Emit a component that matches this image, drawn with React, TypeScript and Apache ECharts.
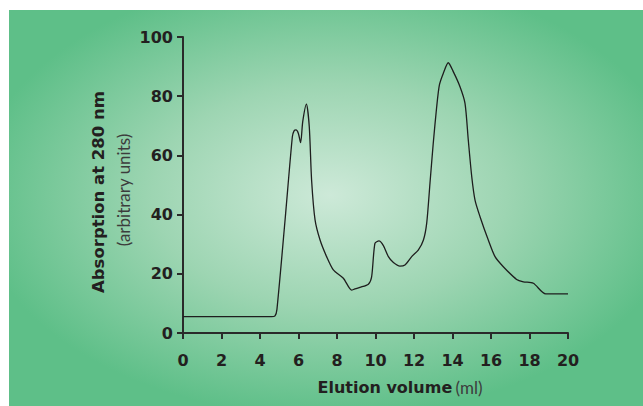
import React, { useEffect, useRef } from "react";
import * as echarts from "echarts";

const elutionVolume = [0, 4.6, 4.78, 4.88, 5.3, 5.68, 5.77, 5.87, 5.99, 6.11, 6.22, 6.41, 6.56, 6.68, 6.86, 7.12, 7.46, 7.81, 8.33, 8.76, 8.9, 9.19, 9.63, 9.8, 9.97, 10.18, 10.41, 10.67, 10.93, 11.27, 11.53, 11.88, 12.22, 12.49, 12.66, 12.83, 13.0, 13.18, 13.32, 13.52, 13.78, 14.04, 14.39, 14.65, 14.82, 15.0, 15.17, 15.43, 15.86, 16.21, 16.64, 17.33, 17.68, 18.2, 18.84, 20];
const absorption = [5.5, 5.5, 5.8, 8, 38, 66.3, 68.3, 68.6, 67.5, 64.3, 71.4, 77.3, 69.7, 51.7, 38.2, 31.4, 25.8, 21.3, 18.5, 14.5, 14.8, 15.4, 16.5, 19.0, 30.3, 31.1, 29.5, 25.8, 23.8, 22.6, 23.0, 25.8, 28.0, 31.4, 37.1, 50.6, 64.1, 76.5, 83.8, 87.7, 91.3, 88.3, 83.2, 77.6, 65.2, 52.8, 44.9, 39.3, 31.4, 25.8, 22.4, 18.1, 17.3, 16.8, 13.2, 13.2];

const xTicks = { min: 0, max: 20, interval: 2 };
const yTicks = { min: 0, max: 100, interval: 20 };

const xTitle = "Elution volume";
const xUnit = "(ml)";
const yTitle = "Absorption at 280 nm";
const ySubtitle = "(arbitrary units)";

const BOLD = "'DejaVu Sans', sans-serif";
const LIGHT = "Lato, 'Open Sans', sans-serif";
const DARK = "#231f20";
const GRAY = "#3c3c3c";

export default function App() {
  const ref = useRef<HTMLDivElement>(null);
  useEffect(() => {
    if (!ref.current) return;
    const chart = echarts.init(ref.current, null, { renderer: "svg" });
    const data = elutionVolume.map((x, i) => [x, absorption[i]]);
    chart.setOption({
      animation: false,
      graphic: [
        {
          type: "group",
          x: 9,
          y: 10,
          scaleY: 396 / 634,
          z: -10,
          silent: true,
          children: [
            {
              type: "rect",
              shape: { x: 0, y: 0, width: 634, height: 634 },
              style: {
                fill: new echarts.graphic.RadialGradient(0.506, 0.467, 0.56, [
                  { offset: 0, color: "#cde9d8" },
                  { offset: 0.5, color: "#9dd5b2" },
                  { offset: 1, color: "#5ebf88" },
                ]),
              },
            },
          ],
        },
        {
          type: "text",
          x: 400,
          y: 387,
          z: 10,
          style: {
            text: `{b|${xTitle}} {n|${xUnit}}`,
            align: "center",
            verticalAlign: "middle",
            rich: {
              b: { fontFamily: BOLD, fontWeight: "bold", fontSize: 16, fill: DARK, color: DARK },
              n: { fontFamily: LIGHT, fontWeight: "normal", fontSize: 17, fill: GRAY, color: GRAY },
            },
          },
        },
        {
          type: "text",
          x: 98,
          y: 192,
          rotation: Math.PI / 2,
          z: 10,
          style: {
            text: yTitle,
            align: "center",
            verticalAlign: "middle",
            fontFamily: BOLD,
            fontWeight: "bold",
            fontSize: 16.5,
            fill: DARK,
          },
        },
        {
          type: "text",
          x: 123,
          y: 190,
          rotation: Math.PI / 2,
          z: 10,
          style: {
            text: ySubtitle,
            align: "center",
            verticalAlign: "middle",
            fontFamily: LIGHT,
            fontWeight: "normal",
            fontSize: 17,
            fill: GRAY,
          },
        },
      ],
      grid: {
        left: 183,
        right: 75,
        top: 37,
        bottom: 73,
        show: true,
        borderColor: "#2a2a2a",
        borderWidth: 2,
        backgroundColor: "transparent",
      },
      xAxis: {
        type: "value",
        min: xTicks.min,
        max: xTicks.max,
        interval: xTicks.interval,
        axisLine: { show: true, onZero: false, lineStyle: { color: "#2a2a2a", width: 2 } },
        axisTick: { show: true, length: 6, lineStyle: { color: "#2a2a2a", width: 2 } },
        axisLabel: { color: DARK, fontFamily: BOLD, fontWeight: "bold", fontSize: 16, margin: 19 },
        splitLine: { show: false },
      },
      yAxis: {
        type: "value",
        min: yTicks.min,
        max: yTicks.max,
        interval: yTicks.interval,
        axisLine: { show: true, onZero: false, lineStyle: { color: "#2a2a2a", width: 2 } },
        axisTick: { show: true, length: 6, lineStyle: { color: "#2a2a2a", width: 2 } },
        axisLabel: { color: DARK, fontFamily: BOLD, fontWeight: "bold", fontSize: 16, margin: 10 },
        splitLine: { show: false },
      },
      series: [
        {
          type: "line",
          data,
          showSymbol: false,
          smooth: 0.25,
          lineStyle: { color: "#1e1e1e", width: 1.3 },
          z: 3,
        },
      ],
    });
    return () => chart.dispose();
  }, []);
  return (
    <div
      ref={ref}
      style={{ position: "fixed", left: 0, top: 0, width: 643, height: 406, background: "#ffffff" }}
    />
  );
}
